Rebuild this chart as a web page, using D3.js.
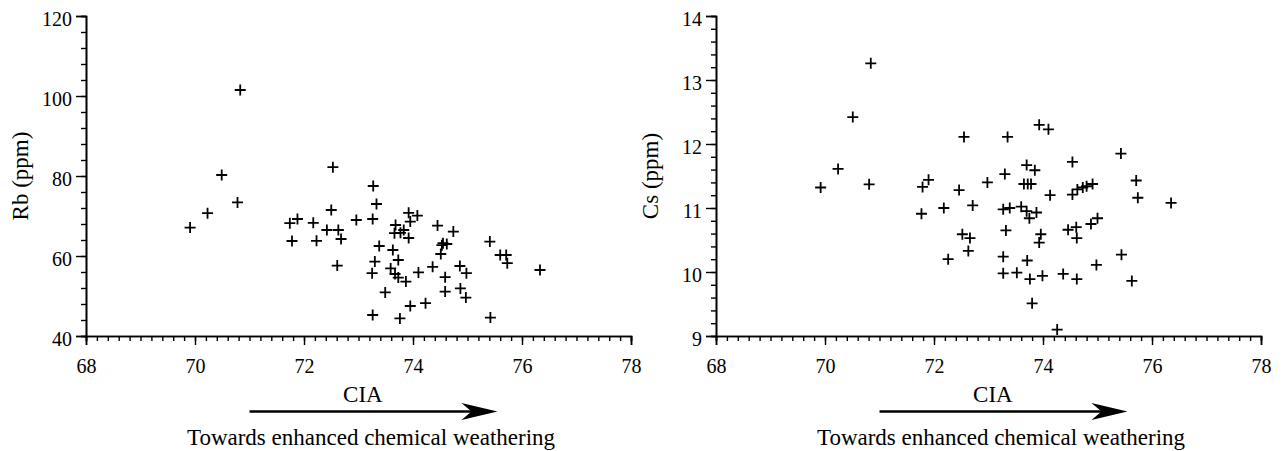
<!DOCTYPE html>
<html>
<head>
<meta charset="utf-8">
<script src="https://cdn.jsdelivr.net/npm/d3@7"></script>
<style>
  html, body { margin: 0; padding: 0; background: #fff; }
  svg { display: block; }
  text { font-family: "Liberation Serif", "Times New Roman", serif; fill: #000; }
</style>
</head>
<body>
<svg id="chart" width="1282" height="451"></svg>
<script>
// ---------- data ----------
const rbCIA = [69.91,70.23,70.49,70.78,70.83,71.74,71.88,71.78,72.17,72.23,72.42,72.5,72.53,72.63,72.68,72.61,72.96,
  73.27,73.33,73.26,73.38,73.3,73.25,73.26,73.49,73.63,73.68,73.66,73.77,73.83,73.92,73.95,74.08,73.92,73.73,73.59,
  73.67,73.73,73.87,74.1,73.76,73.95,74.23,74.36,74.45,74.74,74.55,74.62,74.53,74.51,74.86,74.98,74.59,74.59,74.87,
  74.97,75.41,75.6,75.71,75.73,76.33,75.42];
const rbPPM = [67.1,70.7,80.25,73.4,101.5,68.2,69.25,63.75,68.3,63.8,66.5,71.5,82.2,66.5,64.25,57.6,69,
  77.5,73,69.25,62.5,58.6,55.7,45.25,50.9,61.5,67.75,65.7,65.8,66.5,70.8,68.6,70.1,64.5,59,56.9,
  55.5,54.6,53.6,55.9,44.4,47.5,48.2,57.3,67.6,66.1,63.2,63,62.7,60.5,57.5,55.7,54.7,51.1,51.9,
  49.6,63.6,60.25,60.25,58.2,56.5,44.6];

const csCIA = [69.92,70.24,70.51,70.84,70.81,71.79,71.9,71.77,72.18,72.46,72.55,72.71,72.52,72.66,72.63,72.26,72.98,
  73.3,73.35,73.27,73.39,73.32,73.27,73.27,73.52,73.6,73.7,73.75,73.88,73.65,73.72,73.78,73.7,73.85,73.93,74.1,
  74.13,73.96,73.93,73.71,73.76,73.99,73.8,74.26,74.37,74.62,74.46,74.61,74.62,74.54,74.54,74.63,74.73,74.8,74.91,
  74.88,75.0,74.98,75.43,75.44,75.63,75.71,75.74,76.35];
const csPPM = [11.32,11.61,12.42,13.26,11.37,11.33,11.44,10.91,11.0,11.28,12.11,11.04,10.59,10.53,10.33,10.2,11.4,
  11.53,12.11,10.98,11.0,10.65,10.24,9.98,9.99,11.02,10.95,10.84,10.93,11.375,11.375,11.375,11.67,11.59,12.3,12.23,
  11.2,10.59,10.46,10.18,9.89,9.94,9.51,9.1,9.97,9.89,10.66,10.7,10.53,11.72,11.21,11.29,11.32,11.34,11.375,
  10.75,10.84,10.11,11.85,10.27,9.86,11.43,11.16,11.08];

const xMajorTicks = [68,70,72,74,76,78];
const rbMajorTicks = [40,60,80,100,120];
const csMajorTicks = [9,10,11,12,13,14];
const xLabel = "CIA";
const arrowText = "Towards enhanced chemical weathering";

// ---------- drawing ----------
const svg = d3.select("#chart");
const FONT = 20;
const LABEL_FONT = 23;

function panel(opts) {
  const g = svg.append("g").attr("transform", `translate(${opts.left},0)`);
  const W = 545, top = 16, bottom = 336;
  const x = d3.scaleLinear().domain([68, 78]).range([0, W]);
  const y = d3.scaleLinear().domain(opts.yDomain).range([bottom, top]);

  const xMinor = d3.range(68, 78.0001, 0.2).map(v => +v.toFixed(2));
  const yMinor = d3.range(opts.yDomain[0], opts.yDomain[1] + 1e-6, opts.yMinorStep).map(v => +v.toFixed(2));

  const gxm = g.append("g").attr("transform", `translate(0,${bottom})`)
    .call(d3.axisBottom(x).tickValues(xMinor).tickSize(5).tickFormat(""));
  const gx = g.append("g").attr("transform", `translate(0,${bottom})`)
    .call(d3.axisBottom(x).tickValues(xMajorTicks).tickSize(9).tickPadding(14).tickFormat(d3.format("d")));
  const gym = g.append("g")
    .call(d3.axisLeft(y).tickValues(yMinor).tickSize(5).tickFormat(""));
  const gy = g.append("g")
    .call(d3.axisLeft(y).tickValues(opts.yTicks).tickSize(10).tickPadding(4).tickFormat(d3.format("d")));

  [gxm, gx, gym, gy].forEach(a => {
    a.selectAll("path").attr("stroke", "#000").attr("stroke-width", 1.6);
    a.selectAll("line").attr("stroke", "#000").attr("stroke-width", 1.4);
    a.selectAll("text").attr("font-size", FONT).attr("font-family", '"Liberation Serif", serif').attr("fill", "#000");
  });
  gy.selectAll("text").attr("dy", "0.45em");

  // y label
  g.append("text")
    .attr("transform", `translate(${opts.yLabelX},${(top + bottom) / 2}) rotate(-90)`)
    .attr("text-anchor", "middle")
    .attr("dominant-baseline", "middle")
    .attr("font-size", LABEL_FONT)
    .text(opts.yLabel);

  // x label
  g.append("text")
    .attr("x", x(73.08)).attr("y", 402)
    .attr("text-anchor", "middle")
    .attr("font-size", LABEL_FONT)
    .text(xLabel);

  // arrow
  const ay = 411.5, ax0 = x(71), ax1 = x(75.55);
  g.append("line").attr("x1", ax0).attr("y1", ay).attr("x2", ax1 - 20).attr("y2", ay)
    .attr("stroke", "#000").attr("stroke-width", 2.4);
  g.append("path")
    .attr("d", `M${ax1},${ay} L${ax1 - 36},${ay - 8.5} L${ax1 - 26},${ay} L${ax1 - 36},${ay + 8.5} Z`)
    .attr("fill", "#000");

  g.append("text")
    .attr("x", x(73.23)).attr("y", 445)
    .attr("text-anchor", "middle")
    .attr("font-size", LABEL_FONT)
    .text(arrowText);

  // points as "+"
  const s = 5.5;
  g.append("g").selectAll("path")
    .data(opts.xs.map((v, i) => [v, opts.ys[i]]))
    .join("path")
    .attr("d", d => {
      const px = x(d[0]), py = y(d[1]);
      return `M${px - s},${py}H${px + s}M${px},${py - s}V${py + s}`;
    })
    .attr("stroke", "#000").attr("stroke-width", 1.8).attr("fill", "none");
}

panel({ left: 86, yDomain: [40, 120], yTicks: rbMajorTicks, yMinorStep: 4,
        yLabel: "Rb (ppm)", yLabelX: -63, xs: rbCIA, ys: rbPPM });
panel({ left: 716, yDomain: [9, 14], yTicks: csMajorTicks, yMinorStep: 0.2,
        yLabel: "Cs (ppm)", yLabelX: -63, xs: csCIA, ys: csPPM });
</script>
</body>
</html>
